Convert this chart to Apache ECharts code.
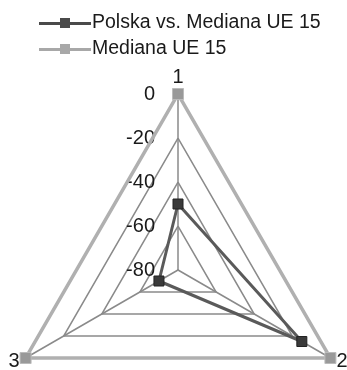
<!DOCTYPE html>
<html><head><meta charset="utf-8">
<script src="https://cdn.jsdelivr.net/npm/echarts@6/dist/echarts.min.js"></script>
<style>html,body{margin:0;padding:0;background:#fff}#c{width:347px;height:370px}</style>
</head><body><div id="c"></div>
<script>
const indicators = ['1', '2', '3'];
const seriesNames = ['Polska vs. Mediana UE 15', 'Mediana UE 15'];
const polskaValues = [-50, -15, -70];
const medianaValues = [0, 0, 0];
const axisMin = -80, axisMax = 0;

// ECharts radar runs counter-clockwise; reorder so indicators go clockwise (1 top, 2 right, 3 left)
const order = [0, 2, 1];
const pick = arr => order.map(i => arr[i]);

const FONT = '"Liberation Sans", Arial, sans-serif';
const ICON = 'path://M0,5 L21,5 L21,1 L31,1 L31,5 L52,5 L52,8 L31,8 L31,11 L21,11 L21,8 L0,8 Z';
const chart = echarts.init(document.getElementById('c'));
chart.setOption({
  animation: false,
  backgroundColor: '#fff',
  legend: {
    orient: 'vertical', left: 34, top: 8, itemGap: 6, itemWidth: 52, itemHeight: 12,
    itemStyle: { borderWidth: 0 },
    lineStyle: { width: 0 },
    textStyle: { fontFamily: FONT, fontSize: 19.5, color: '#1a1a1a', padding: [0,0,0,-4] },
    data: [
      { name: seriesNames[0], icon: ICON, itemStyle: { color: '#4a4a4a', borderWidth: 0 } },
      { name: seriesNames[1], icon: ICON, itemStyle: { color: '#a8a8a8', borderWidth: 0 } }
    ]
  },
  radar: {
    center: [178, 270], radius: 176, shape: 'polygon', splitNumber: 4, startAngle: 90,
    indicator: pick(indicators).map(n => n === indicators[0]
      ? { name: n, min: axisMin, max: axisMax, axisLabel: { show: true } }
      : { name: n, min: axisMin, max: axisMax }),
    axisName: { color: '#1a1a1a', fontFamily: FONT, fontSize: 20 },
    nameGap: 7,
    axisLabel: { show: false, fontFamily: FONT, fontSize: 20, color: '#1a1a1a', margin: 23 },
    axisLine: { lineStyle: { color: '#8a8a8a', width: 1.5 } },
    splitLine: { lineStyle: { color: '#8a8a8a', width: 1.5 } },
    splitArea: { show: false },
    axisTick: { show: false }
  },
  series: [{
    type: 'radar',
    data: [
      { name: seriesNames[0], value: pick(polskaValues),
        symbol: 'rect', symbolSize: 10,
        lineStyle: { color: '#5a5a5a', width: 3 },
        itemStyle: { color: '#3a3a3a', borderColor: '#222', borderWidth: 1 } },
      { name: seriesNames[1], value: pick(medianaValues),
        symbol: 'rect', symbolSize: 11,
        lineStyle: { color: '#b0b0b0', width: 3.5 },
        itemStyle: { color: '#999', borderColor: '#bbb', borderWidth: 1 } }
    ]
  }]
});
</script></body></html>
